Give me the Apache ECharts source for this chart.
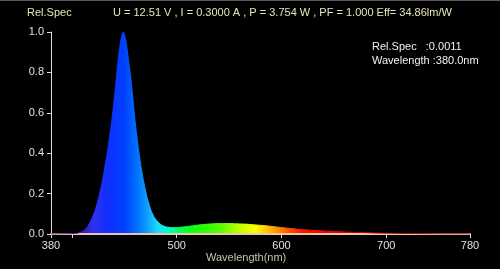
<!DOCTYPE html>
<html>
<head>
<meta charset="utf-8">
<script src="https://cdn.jsdelivr.net/npm/echarts@6/dist/echarts.min.js"></script>
<style>
html,body{margin:0;padding:0;background:#000;}
#chart{width:500px;height:269px;}
</style>
</head>
<body>
<div id="chart"></div>
<script>
// ---- data ----
const wavelengths = [380,385,390,395,400,405,410,412,415,418,420,422,424,426,428,430,432,434,436,438,440,442,444,446,448,449,450,452,454,456,458,460,462,464,466,468,470,472,474,476,478,480,482,484,486,488,490,495,500,505,510,515,520,525,530,535,540,545,550,555,560,565,570,575,580,585,590,595,600,605,610,615,620,625,630,640,650,660,670,680,690,700,710,720,730,740,750,760,770,780];
const relSpec = [0,0,0.001,0.001,0.002,0.004,0.012,0.02,0.036,0.065,0.09,0.115,0.15,0.19,0.236,0.29,0.35,0.41,0.485,0.56,0.65,0.75,0.855,0.94,0.99,1.0,0.99,0.94,0.86,0.78,0.68,0.57,0.48,0.40,0.33,0.27,0.22,0.175,0.14,0.11,0.088,0.072,0.06,0.05,0.043,0.038,0.035,0.032,0.032,0.034,0.037,0.041,0.044,0.047,0.049,0.051,0.052,0.052,0.052,0.051,0.05,0.049,0.047,0.045,0.043,0.041,0.038,0.035,0.032,0.029,0.027,0.024,0.022,0.02,0.018,0.015,0.012,0.01,0.008,0.007,0.005,0.004,0.003,0.003,0.002,0.002,0.001,0.001,0.001,0.001];
const xTickValues = [380,400,500,600,700,780];
const xLabelValues = [380,500,600,700,780];
const headerText = 'U = 12.51 V , I = 0.3000 A , P = 3.754 W , PF = 1.000 Eff= 34.86lm/W';
const cursorLines = ['Rel.Spec   :0.0011', 'Wavelength :380.0nm'];
// wavelength -> colour stops for the spectral fill
const specWl = [380,405,420,435,450,462,472,482,492,502,515,540,560,575,590,605,620,650,700,780];
const specCol = ['#200040','#3010a0','#3030f0','#1030ff','#0040ff','#0070ff','#10a0ff','#20d8ff','#00ffd0','#00ff60','#10ff10','#50ff00','#c0ff00','#ffff00','#ffb000','#ff6000','#ff1000','#ee0000','#a00000','#600000'];

const data = wavelengths.map((w,i)=>[w, relSpec[i]]);
const stops = specWl.map((w,i)=>({offset:(w-380)/400, color:specCol[i]}));
const grad = () => new echarts.graphic.LinearGradient(0,0,1,0, stops);

const chart = echarts.init(document.getElementById('chart'));
const font = 'Liberation Sans';
chart.setOption({
  backgroundColor:'#000',
  animation:false,
  grid:{left:51, right:30, top:32, bottom:35},
  xAxis:{
    type:'value', min:380, max:780, z:3,
    axisLine:{show:true, onZero:true, lineStyle:{color:'#f0c4a8', width:2}},
    axisTick:{show:true, length:4, customValues:xTickValues, lineStyle:{color:'#e0e0e0'}},
    axisLabel:{customValues:xLabelValues, color:'#e0e0e0', fontFamily:font, fontSize:11, margin:6},
    splitLine:{show:false}
  },
  yAxis:{
    type:'value', min:0, max:1, interval:0.2,
    axisLine:{show:true, lineStyle:{color:'#e0e0e0', width:1}},
    axisTick:{show:true, length:4, lineStyle:{color:'#e0e0e0'}},
    axisLabel:{color:'#e0e0e0', fontFamily:font, fontSize:11, margin:7, formatter:v=>v.toFixed(1)},
    splitLine:{show:false}
  },
  series:[{
    type:'line', data:data, showSymbol:false, smooth:0.2,
    lineStyle:{width:1, color:grad()},
    areaStyle:{color:grad(), opacity:1}
  }],
  graphic:[
    {type:'line', shape:{x1:0,y1:0.5,x2:500,y2:0.5}, style:{stroke:'#5a5a5a', lineWidth:1}},
    {type:'text', left:27, top:7, style:{text:'Rel.Spec', fill:'#e8e4b8', font:'11px '+font}},
    {type:'text', left:113, top:7, style:{text:headerText, fill:'#e8e4b8', font:'11px '+font}},
    {type:'text', left:372, top:41, style:{text:cursorLines[0], fill:'#f0f0f0', font:'11px '+font}},
    {type:'text', left:372, top:55, style:{text:cursorLines[1], fill:'#f0f0f0', font:'11px '+font}},
    {type:'text', left:206, top:252, style:{text:'Wavelength(nm)', fill:'#c8c4a8', font:'11px '+font}}
  ]
});
</script>
</body>
</html>
